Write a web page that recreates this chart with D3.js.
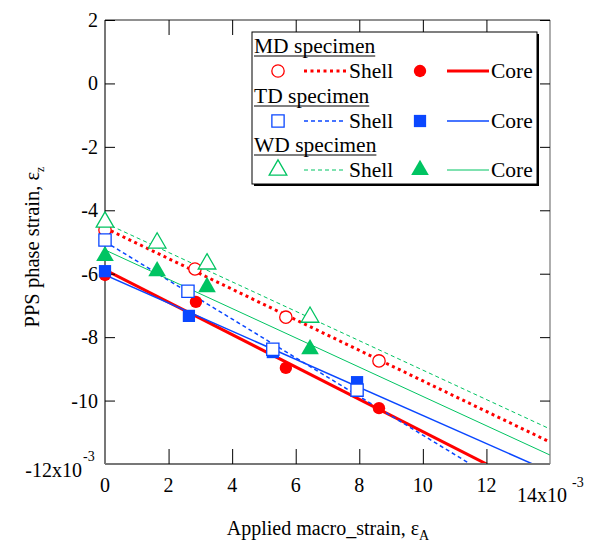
<!DOCTYPE html>
<html>
<meta charset="utf-8">
<style>
    body { margin: 0; background: #fff; }
    svg text { font-family: "Liberation Serif", "Times New Roman", serif; fill: #000; }
</style>
<body>
<script src="https://cdn.jsdelivr.net/npm/d3@7"></script>
<div id="chart"></div>
<script>
// values in units of 1e-3
var xTicks = [0, 2, 4, 6, 8, 10, 12];
var yTicks = [2, 0, -2, -4, -6, -8, -10];

var mdShellX = [0, 2.83, 5.69, 8.62];
var mdShellY = [-4.62, -5.85, -7.37, -8.75];
var mdCoreX = [0, 2.86, 5.69, 8.62];
var mdCoreY = [-6.04, -6.89, -8.97, -10.24];

var tdShellX = [0, 2.61, 5.28, 7.93];
var tdShellY = [-4.94, -6.55, -8.38, -9.67];
var tdCoreX = [0, 2.64, 5.28, 7.93];
var tdCoreY = [-5.92, -7.33, -8.47, -9.42];

var wdShellX = [0, 1.64, 3.21, 6.45];
var wdShellY = [-4.37, -5.03, -5.69, -7.37];
var wdCoreX = [0, 1.64, 3.21, 6.45];
var wdCoreY = [-5.44, -5.92, -6.42, -8.38];

// fitted lines: intercept, slope (order: MD shell, MD core, TD shell, TD core, WD shell, WD core)
var fitNames = ["mdShell", "mdCore", "tdShell", "tdCore", "wdShell", "wdCore"];
var fitIntercept = [-4.56, -5.88, -4.99, -6.04, -4.40, -5.25];
var fitSlope = [-0.482, -0.51, -0.61, -0.443, -0.464, -0.462];

var red = "#ff0000", blue = "#0a47ff", green = "#00c462";

var W = 593, H = 542;
var svg = d3.select("#chart").append("svg").attr("width", W).attr("height", H);

var x = d3.scaleLinear().domain([0, 14]).range([105, 550]);
var y = d3.scaleLinear().domain([-12, 2]).range([464, 20]);

var styles = {
    mdShell: {color: red, width: 3, dash: "3,3.5"},
    mdCore: {color: red, width: 3, dash: null},
    tdShell: {color: blue, width: 1.5, dash: "4,3"},
    tdCore: {color: blue, width: 1.5, dash: null},
    wdShell: {color: green, width: 1, dash: "4,3"},
    wdCore: {color: green, width: 1, dash: null}
};

svg.append("clipPath").attr("id", "plotclip").append("rect")
    .attr("x", x(0)).attr("y", y(2)).attr("width", x(14) - x(0)).attr("height", y(-12) - y(2));

// fit lines
var lineGen = d3.line().x(function(d) { return x(d[0]); }).y(function(d) { return y(d[1]); });
var lg = svg.append("g").attr("clip-path", "url(#plotclip)");
fitNames.forEach(function(n, i) {
    var pts = [[0, fitIntercept[i]], [14, fitIntercept[i] + 14 * fitSlope[i]]];
    var s = styles[n];
    lg.append("path").attr("d", lineGen(pts))
        .attr("fill", "none").attr("stroke", s.color).attr("stroke-width", s.width)
        .attr("stroke-dasharray", s.dash);
});

// axes frame
var frame = svg.append("g");
frame.append("line").attr("x1", x(0)).attr("x2", x(14)).attr("y1", y(2)).attr("y2", y(2)).attr("stroke", "#222").attr("stroke-width", 1);
frame.append("line").attr("x1", x(14)).attr("x2", x(14)).attr("y1", y(2)).attr("y2", y(-12)).attr("stroke", "#777").attr("stroke-width", 1.2);
frame.append("line").attr("x1", x(0)).attr("x2", x(0)).attr("y1", y(2)).attr("y2", y(-12)).attr("stroke", "#777").attr("stroke-width", 2);
frame.append("line").attr("x1", x(0)).attr("x2", x(14)).attr("y1", y(-12)).attr("y2", y(-12)).attr("stroke", "#777").attr("stroke-width", 2);

// ticks via axes (inward)
var axB = svg.append("g").attr("transform", "translate(0," + y(-12) + ")")
    .call(d3.axisTop(x).tickValues(xTicks.slice(1)).tickSize(15).tickFormat(""));
var axT = svg.append("g").attr("transform", "translate(0," + y(2) + ")")
    .call(d3.axisBottom(x).tickValues(xTicks.slice(1)).tickSize(15).tickFormat(""));
var axL = svg.append("g").attr("transform", "translate(" + x(0) + ",0)")
    .call(d3.axisRight(y).tickValues(yTicks).tickSize(10).tickFormat(""));
var axR = svg.append("g").attr("transform", "translate(" + x(14) + ",0)")
    .call(d3.axisLeft(y).tickValues(yTicks).tickSize(10).tickFormat(""));
[axB, axT, axL, axR].forEach(function(a) {
    a.select(".domain").remove();
    a.selectAll("line").attr("stroke", "#000").attr("stroke-width", 1);
});

// tick labels
svg.selectAll(".xl").data(xTicks).enter().append("text")
    .attr("x", function(d) { return x(d); }).attr("y", 492)
    .attr("text-anchor", "middle").attr("font-size", 20).text(function(d) { return d; });
svg.selectAll(".yl").data(yTicks).enter().append("text")
    .attr("x", 98).attr("y", function(d) { return y(d) + 7; })
    .attr("text-anchor", "end").attr("font-size", 20).text(function(d) { return d; });

var t12 = svg.append("text").attr("x", 82).attr("y", 477).attr("text-anchor", "end").attr("font-size", 20);
t12.text("-12x10");
svg.append("text").attr("x", 83).attr("y", 461).attr("font-size", 14).text("-3");
svg.append("text").attr("x", 517).attr("y", 502).attr("font-size", 20).text("14x10");
svg.append("text").attr("x", 572).attr("y", 487).attr("font-size", 14).text("-3");

// axis titles
var xt = svg.append("text").attr("x", 328).attr("y", 535).attr("text-anchor", "middle").attr("font-size", 20);
xt.append("tspan").text("Applied macro_strain, ε");
xt.append("tspan").attr("font-size", 14).attr("dy", 5).text("A");

var yt = svg.append("text").attr("transform", "translate(39,247) rotate(-90)").attr("text-anchor", "middle").attr("font-size", 20.5);
yt.append("tspan").text("PPS phase strain, ε");
yt.append("tspan").attr("font-size", 12).attr("dy", 5).text("z");

// markers
var sym = {
    circle: d3.symbol().type(d3.symbolCircle).size(120),
    square: d3.symbol().type(d3.symbolSquare).size(150),
    triangle: d3.symbol().type(d3.symbolTriangle).size(135)
};
function drawPoints(xs, ys, shape, color, filled) {
    var pts = xs.map(function(v, i) { return [v, ys[i]]; });
    svg.append("g").selectAll("path").data(pts).enter().append("path")
        .attr("d", sym[shape])
        .attr("transform", function(d) { return "translate(" + x(d[0]) + "," + y(d[1]) + ")"; })
        .attr("fill", filled ? color : "#fff")
        .attr("stroke", color).attr("stroke-width", filled ? 0 : 1.3);
}
drawPoints(mdCoreX, mdCoreY, "circle", red, true);
drawPoints(tdCoreX, tdCoreY, "square", blue, true);
drawPoints(wdCoreX, wdCoreY, "triangle", green, true);
drawPoints(mdShellX, mdShellY, "circle", red, false);
drawPoints(tdShellX, tdShellY, "square", blue, false);
drawPoints(wdShellX, wdShellY, "triangle", green, false);

// legend
var leg = svg.append("g");
leg.append("rect").attr("x", 254).attr("y", 34).attr("width", 285).attr("height", 152).attr("fill", "#000");
leg.append("rect").attr("x", 252).attr("y", 32).attr("width", 285).attr("height", 152)
    .attr("fill", "#fff").attr("stroke", "#000").attr("stroke-width", 1);

var groups = [
    {title: "MD specimen", shell: "mdShell", core: "mdCore", shape: "circle", color: red, ty: 53},
    {title: "TD specimen", shell: "tdShell", core: "tdCore", shape: "square", color: blue, ty: 103},
    {title: "WD specimen", shell: "wdShell", core: "wdCore", shape: "triangle", color: green, ty: 152}
];
groups.forEach(function(g) {
    var tt = leg.append("text").attr("x", 254).attr("y", g.ty).attr("font-size", 21.5).text(g.title);
    var bw = tt.node().getComputedTextLength();
    leg.append("line").attr("x1", 254).attr("x2", 254 + bw).attr("y1", g.ty + 3).attr("y2", g.ty + 3)
        .attr("stroke", "#000").attr("stroke-width", 1);
    var ry = g.ty + 18;
    leg.append("path").attr("d", sym[g.shape]).attr("transform", "translate(278," + ry + ")")
        .attr("fill", "#fff").attr("stroke", g.color).attr("stroke-width", 1.3);
    var s1 = styles[g.shell];
    leg.append("line").attr("x1", 304).attr("x2", 346).attr("y1", ry).attr("y2", ry)
        .attr("stroke", s1.color).attr("stroke-width", s1.width).attr("stroke-dasharray", s1.dash);
    leg.append("text").attr("x", 349).attr("y", ry + 7).attr("font-size", 21.5).text("Shell");
    leg.append("path").attr("d", sym[g.shape]).attr("transform", "translate(420," + ry + ")")
        .attr("fill", g.color);
    var s2 = styles[g.core];
    leg.append("line").attr("x1", 447).attr("x2", 489).attr("y1", ry).attr("y2", ry)
        .attr("stroke", s2.color).attr("stroke-width", s2.width);
    leg.append("text").attr("x", 491).attr("y", ry + 7).attr("font-size", 21.5).text("Core");
});
</script>
</body>
</html>
